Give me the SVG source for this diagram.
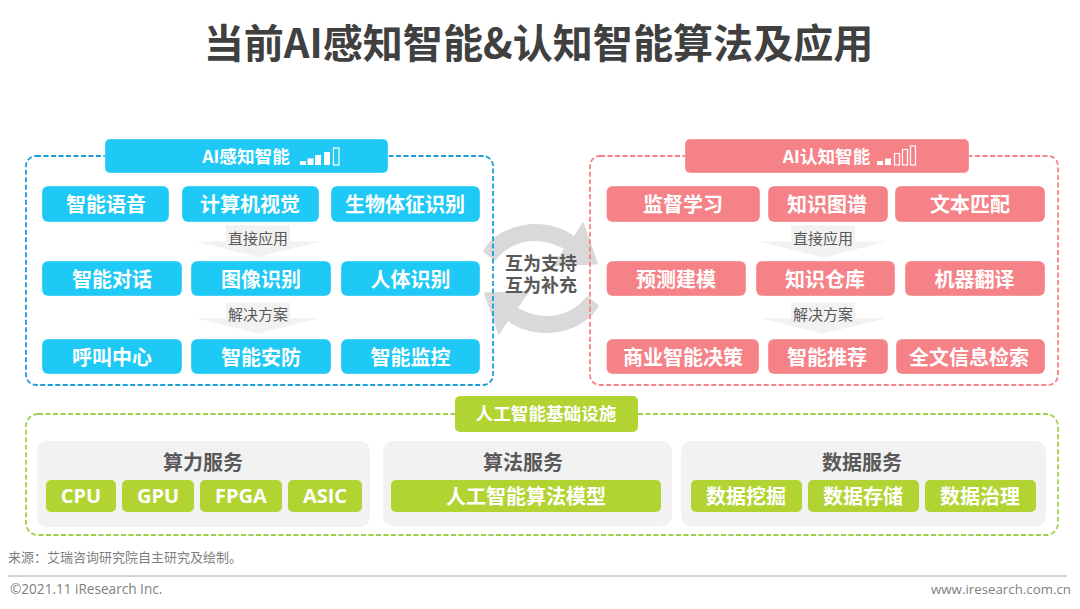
<svg xmlns="http://www.w3.org/2000/svg" xmlns:xlink="http://www.w3.org/1999/xlink" width="1080" height="609" viewBox="0 0 1080 609">
<style>
text{font-family:"Noto Sans CJK SC","Noto Sans",sans-serif;text-anchor:middle}
.b{stroke-width:1;stroke-opacity:.35;stroke:#fff}
.blue{fill:#1FC9F5}.pink{fill:#F58287}.green{fill:#B1D433}
.t{fill:#fff;font-size:20px;font-weight:700}
.h{fill:#fff;font-size:17.6px;font-weight:700}
.s{fill:#595959;font-size:20px;font-weight:700}
.a{fill:#595959;font-size:15px}
.tri,.bg{fill:#F2F2F2}
.panel{fill:#F2F2F2}
.d{fill:none;stroke-width:1.8;stroke-dasharray:5 2.5}
.w{fill:#fff}.o{fill:none;stroke:#fff;stroke-width:1.2}
.f{fill:#7F7F7F;font-size:13px}
.e{font-family:"Open Sans",sans-serif;font-size:13.6px}
.ring{fill:#D9D9D9}
</style>
<defs>
<g id="arc"><path class="ring" d="M483,251.500C497,224 545,214 574,236L583.300,221.500L598.300,264.500L552.300,266L564,249C535,233 508,243 495,261Z"/></g>
</defs>
<text id="title" x="538.500" y="58" style="font-size:40.100px;font-weight:700;fill:#404040">当前AI感知智能&amp;认知智能算法及应用</text>

<g id="connectors">
<use href="#arc" xlink:href="#arc"/>
<use href="#arc" xlink:href="#arc" transform="rotate(180 541 278.500)"/>
<g id="arrow-l1"><rect class="bg" x="226" y="225.500" width="64" height="20"/><polygon class="tri" points="195,241.500 320,241.500 258,257"/></g>
<g id="arrow-l2"><rect class="bg" x="226" y="302.500" width="64" height="20"/><polygon class="tri" points="195,318 320,318 258,333.500"/></g>
<g id="arrow-r1"><rect class="bg" x="791" y="225.500" width="64" height="20"/><polygon class="tri" points="760,241.500 887,241.500 823,257.500"/></g>
<g id="arrow-r2"><rect class="bg" x="791" y="302.500" width="64" height="20"/><polygon class="tri" points="760,318 887,318 823,333.500"/></g>
<text class="a" x="258" y="244">直接应用</text>
<text class="a" x="258" y="320">解决方案</text>
<text class="a" x="823" y="244">直接应用</text>
<text class="a" x="823" y="320">解决方案</text>
</g>

<g id="perception">
<rect class="d" x="26" y="156" width="467" height="229" rx="10" stroke="#1A9FD9"/>
<rect class="blue b" x="105" y="139" width="283" height="34" rx="5"/>
<text class="h" x="246" y="163">AI感知智能</text>
<rect class="w" x="300" y="161" width="6" height="4"/><rect class="w" x="307.500" y="158.500" width="6" height="6.500"/><rect class="w" x="315" y="155" width="6" height="10"/><rect class="w" x="324" y="152" width="6" height="13"/><rect class="o" x="333.500" y="148" width="5.500" height="17"/>
</g>
<g id="n-zhineng-yuyin"><rect class="blue b" x="42" y="186" width="127" height="36" rx="6"/><text class="t" x="106" y="212">智能语音</text></g>
<g id="n-jisuanji"><rect class="blue b" x="182" y="186" width="137" height="36" rx="6"/><text class="t" x="250" y="212">计算机视觉</text></g>
<g id="n-shengwu"><rect class="blue b" x="331" y="186" width="149" height="36" rx="6"/><text class="t" x="405" y="212">生物体征识别</text></g>
<g id="n-duihua"><rect class="blue b" x="42" y="261" width="140" height="35" rx="6"/><text class="t" x="112" y="286.500">智能对话</text></g>
<g id="n-tuxiang"><rect class="blue b" x="191" y="261" width="140" height="35" rx="6"/><text class="t" x="261" y="286.500">图像识别</text></g>
<g id="n-renti"><rect class="blue b" x="341" y="261" width="139" height="35" rx="6"/><text class="t" x="410.500" y="286.500">人体识别</text></g>
<g id="n-hujiao"><rect class="blue b" x="42" y="339" width="140" height="35" rx="6"/><text class="t" x="112" y="364.500">呼叫中心</text></g>
<g id="n-anfang"><rect class="blue b" x="191" y="339" width="140" height="35" rx="6"/><text class="t" x="261" y="364.500">智能安防</text></g>
<g id="n-jiankong"><rect class="blue b" x="341" y="339" width="139" height="35" rx="6"/><text class="t" x="410.500" y="364.500">智能监控</text></g>

<g id="cognition">
<rect class="d" x="590" y="156" width="468" height="229" rx="10" stroke="#F58287"/>
<rect class="pink b" x="685" y="139" width="284" height="34" rx="5"/>
<text class="h" x="826.500" y="163">AI认知智能</text>
<rect class="w" x="877" y="161" width="6" height="4"/><rect class="w" x="885" y="158.500" width="6" height="6.500"/><rect class="o" x="894.500" y="153.500" width="5" height="11.500"/><rect class="o" x="902.500" y="149.500" width="5" height="15.500"/><rect class="o" x="910.500" y="146" width="5" height="19"/>
</g>
<g id="n-jiandu"><rect class="pink b" x="606.500" y="186" width="153.500" height="36" rx="6"/><text class="t" x="683" y="212">监督学习</text></g>
<g id="n-tupu"><rect class="pink b" x="768" y="186" width="120" height="36" rx="6"/><text class="t" x="827" y="212">知识图谱</text></g>
<g id="n-pipei"><rect class="pink b" x="895" y="186" width="150" height="36" rx="6"/><text class="t" x="970" y="212">文本匹配</text></g>
<g id="n-yuce"><rect class="pink b" x="606.500" y="261" width="139.500" height="35" rx="6"/><text class="t" x="676" y="286.500">预测建模</text></g>
<g id="n-cangku"><rect class="pink b" x="756" y="261" width="139" height="35" rx="6"/><text class="t" x="825" y="286.500">知识仓库</text></g>
<g id="n-fanyi"><rect class="pink b" x="905" y="261" width="140" height="35" rx="6"/><text class="t" x="974.500" y="286.500">机器翻译</text></g>
<g id="n-juece"><rect class="pink b" x="606.500" y="339" width="152.500" height="35" rx="6"/><text class="t" x="683" y="364.500">商业智能决策</text></g>
<g id="n-tuijian"><rect class="pink b" x="768" y="339" width="120" height="35" rx="6"/><text class="t" x="827" y="364.500">智能推荐</text></g>
<g id="n-jiansuo"><rect class="pink b" x="896" y="339" width="149" height="35" rx="6"/><text class="t" x="969" y="364.500">全文信息检索</text></g>

<g id="mutual">
<text style="fill:#595959;font-size:18px;font-weight:700"><tspan x="541" y="270">互为支持</tspan><tspan x="541" y="292">互为补充</tspan></text>
</g>

<g id="infrastructure">
<rect class="d" x="26" y="414" width="1032" height="121" rx="12" stroke="#9FD04B"/>
<rect class="green" x="455" y="396" width="183" height="36" rx="5"/>
<text class="h" x="546" y="420">人工智能基础设施</text>
<rect class="panel" x="37" y="441" width="333" height="86" rx="10"/>
<rect class="panel" x="383" y="441" width="289" height="85" rx="10"/>
<rect class="panel" x="681" y="441" width="365" height="85.500" rx="10"/>
<text class="s" x="203" y="470">算力服务</text>
<text class="s" x="523" y="470">算法服务</text>
<text class="s" x="862" y="470">数据服务</text>
</g>
<g id="n-cpu"><rect class="green" x="46" y="480" width="70" height="32" rx="5"/><text class="t" x="81" y="503" style="font-family:'Open Sans',sans-serif">CPU</text></g>
<g id="n-gpu"><rect class="green" x="122" y="480" width="72" height="32" rx="5"/><text class="t" x="158" y="503" style="font-family:'Open Sans',sans-serif">GPU</text></g>
<g id="n-fpga"><rect class="green" x="200" y="480" width="82" height="32" rx="5"/><text class="t" x="241" y="503" style="font-family:'Open Sans',sans-serif">FPGA</text></g>
<g id="n-asic"><rect class="green" x="288" y="480" width="74" height="32" rx="5"/><text class="t" x="325" y="503" style="font-family:'Open Sans',sans-serif">ASIC</text></g>
<g id="n-model"><rect class="green" x="391" y="480" width="270" height="32" rx="5"/><text class="t" x="526" y="504">人工智能算法模型</text></g>
<g id="n-wajue"><rect class="green" x="691" y="480" width="111" height="32" rx="5"/><text class="t" x="746" y="504">数据挖掘</text></g>
<g id="n-cunchu"><rect class="green" x="808" y="480" width="111" height="32" rx="5"/><text class="t" x="863" y="504">数据存储</text></g>
<g id="n-zhili"><rect class="green" x="925" y="480" width="111" height="32" rx="5"/><text class="t" x="980" y="504">数据治理</text></g>

<g id="footer">
<text class="f" x="8" y="562" style="text-anchor:start">来源：艾瑞咨询研究院自主研究及绘制。</text>
<line x1="8" y1="576" x2="1067" y2="576" stroke="#A6A6A6" stroke-width="1"/>
<text class="f e" x="10" y="594" style="text-anchor:start">©2021.11 iResearch Inc.</text>
<text class="f e" x="1071" y="594" style="text-anchor:end;font-size:13.300px">www.iresearch.com.cn</text>
</g>
</svg>
